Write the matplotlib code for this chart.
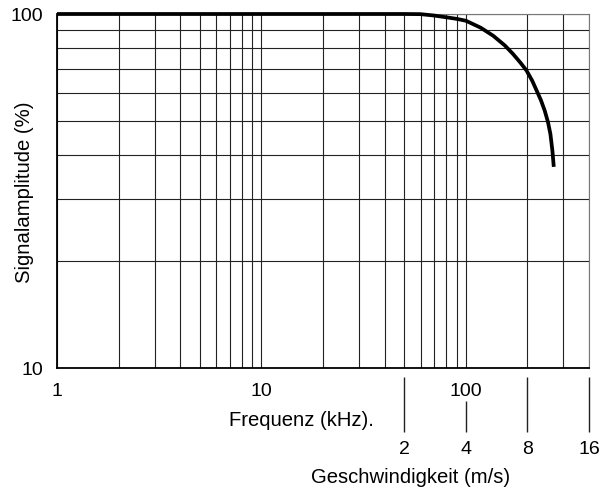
import matplotlib
matplotlib.use("Agg")
import matplotlib.pyplot as plt
from matplotlib.ticker import NullFormatter, NullLocator

plt.rcParams['font.family'] = ['Liberation Sans', 'DejaVu Sans']

# Signalamplitude gegen Frequenz
freq_khz = [1, 10, 30, 50, 60, 70, 80, 90, 100, 118, 136, 155, 170, 185, 198,
            211, 222, 233, 243, 252, 259, 265, 269]
amplitude = [100, 100, 100, 100, 99.9, 99.0, 97.9, 96.9, 95.7, 91.5, 86.8, 81.5,
             77.1, 72.8, 69.2, 64.8, 60.7, 57.0, 53.3, 49.5, 45.8, 41.0, 37.0]

x_ticks = [1, 10, 100]
y_ticks = [10, 100]
speed_ticks = [2, 4, 8, 16]
khz_per_ms = 25

FS_TICK = 14
FS_LABEL = 14.6


def to_speed(f):
    return f / khz_per_ms


def to_freq(v):
    return v * khz_per_ms


fig = plt.figure(figsize=(6.0, 4.89), dpi=100)
ax = fig.add_axes([57 / 600, 1 - 369 / 489, 532 / 600, 354 / 489])

ax.set_xscale('log')
ax.set_yscale('log')
ax.set_xlim(1, 400)
ax.set_ylim(10, 100)

ax.grid(True, which='both', color='#222222', linewidth=0.8)
ax.set_axisbelow(True)

ax.plot(freq_khz, amplitude, color='black', linewidth=2.7,
        solid_capstyle='butt', clip_on=False, zorder=5)

ax.set_xticks(x_ticks)
ax.set_xticklabels([str(t) for t in x_ticks])
ax.set_yticks(y_ticks)
ax.set_yticklabels([str(t) for t in y_ticks])
ax.xaxis.set_minor_formatter(NullFormatter())
ax.yaxis.set_minor_formatter(NullFormatter())
ax.tick_params(which='both', length=0, labelsize=FS_TICK)
ax.tick_params(axis='x', pad=10)
ax.tick_params(axis='y', pad=10)

for side in ['left', 'bottom']:
    ax.spines[side].set_linewidth(1.3)
for side in ['top', 'right']:
    ax.spines[side].set_color('#777777')
    ax.spines[side].set_linewidth(0.8)

ax.set_ylabel('Signalamplitude (%)', fontsize=FS_LABEL)
ax.yaxis.set_label_coords((34 - 57) / 532, 0.5)

# zweite Skala: Geschwindigkeit
sec = ax.secondary_xaxis((369 - 433) / 354, functions=(to_speed, to_freq))
sec.set_xticks(speed_ticks)
sec.set_xticklabels([str(t) for t in speed_ticks])
sec.xaxis.set_minor_locator(NullLocator())
sec.spines['bottom'].set_visible(False)
sec.tick_params(direction='in', length=39.6, width=1.0, color='#222222',
                labelsize=FS_TICK, pad=6)
sec.xaxis.get_major_ticks()[1].tick1line.set_markersize(22)

fig.text(301 / 600, 1 - 420 / 489, 'Frequenz (kHz).', fontsize=FS_LABEL,
         ha='center', va='center')
fig.text(411 / 600, 1 - 478 / 489, 'Geschwindigkeit (m/s)', fontsize=FS_LABEL,
         ha='center', va='center')

fig.savefig('out.png', dpi=100)
